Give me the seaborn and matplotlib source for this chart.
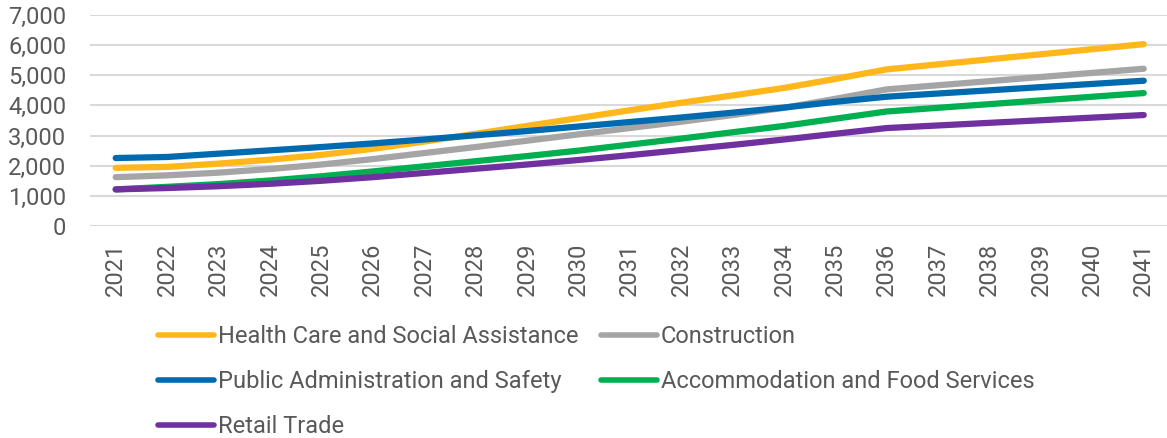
import pandas as pd
import matplotlib.pyplot as plt
import seaborn as sns
from matplotlib.ticker import FuncFormatter

# Anos e séries
years = [str(y) for y in range(2021, 2042)]

health = [1930, 1960, 2070, 2200, 2360, 2560, 2800, 3060, 3320, 3580, 3840,
          4090, 4330, 4580, 4880, 5196, 5364, 5531, 5699, 5866, 6034]
construction = [1620, 1680, 1770, 1890, 2040, 2220, 2420, 2620, 2830, 3040, 3250,
                3460, 3680, 3920, 4220, 4533, 4670, 4807, 4944, 5081, 5218]
public_admin = [2255, 2290, 2400, 2510, 2620, 2740, 2870, 3010, 3150, 3300, 3450,
                3600, 3760, 3930, 4120, 4290, 4396, 4502, 4608, 4714, 4820]
accommodation = [1215, 1300, 1390, 1510, 1650, 1810, 1980, 2150, 2320, 2500, 2700,
                 2900, 3110, 3320, 3560, 3800, 3922, 4044, 4167, 4289, 4411]
retail = [1215, 1260, 1320, 1400, 1500, 1620, 1760, 1900, 2040, 2190, 2350,
          2520, 2690, 2870, 3060, 3250, 3336, 3423, 3509, 3596, 3682]

series_names = ["Health Care and Social Assistance", "Construction",
                "Public Administration and Safety", "Accommodation and Food Services",
                "Retail Trade"]
series_values = [health, construction, public_admin, accommodation, retail]
colors = ["#FFB71B", "#A5A5A5", "#006AB0", "#00B050", "#7030A0"]

df = pd.concat([pd.DataFrame({"Year": years, "Value": v, "Sector": n})
                for n, v in zip(series_names, series_values)], ignore_index=True)

sns.set_theme(style="white")
plt.rcParams['font.family'] = ['Roboto', 'DejaVu Sans']
text_color = "#595959"
fsize = 17

fig = plt.figure(figsize=(11.67, 4.38), dpi=100)
ax = fig.add_axes([0.0771, 0.484, 0.925, 0.4817])

sns.lineplot(data=df, x="Year", y="Value", hue="Sector", hue_order=series_names,
             palette=colors, linewidth=4.5, solid_capstyle="round", sort=False,
             ax=ax, legend=True)

ax.set_xlim(-0.5, len(years) - 0.5)
ax.set_ylim(0, 7000)
ax.set_yticks(range(0, 7001, 1000))
ax.yaxis.set_major_formatter(FuncFormatter(lambda v, p: f"{int(v):,}"))
ax.grid(axis="y", color="#D9D9D9", linewidth=1.5)
ax.set_axisbelow(True)
for s in ax.spines.values():
    s.set_visible(False)
ax.set_xlabel("")
ax.set_ylabel("")
ax.tick_params(axis="both", length=0, labelsize=fsize, labelcolor=text_color)
ax.tick_params(axis="x", rotation=90, pad=12)
ax.tick_params(axis="y", pad=17)

# Legenda em linhas: (H, C), (P, A), (R)
handles, labels = ax.get_legend_handles_labels()
ax.get_legend().remove()
order = [0, 2, 4, 1, 3]
leg = fig.legend([handles[i] for i in order], [labels[i] for i in order],
                 loc="upper left", bbox_to_anchor=(0.135, 0.2575),
                 ncol=2, frameon=False, fontsize=fsize, handlelength=2.4,
                 handletextpad=0.15, columnspacing=0.95, labelspacing=0.93,
                 borderpad=0, borderaxespad=0)
for t in leg.get_texts():
    t.set_color(text_color)
for h in leg.get_lines():
    h.set_linewidth(4)

fig.savefig("out.png", dpi=100)
